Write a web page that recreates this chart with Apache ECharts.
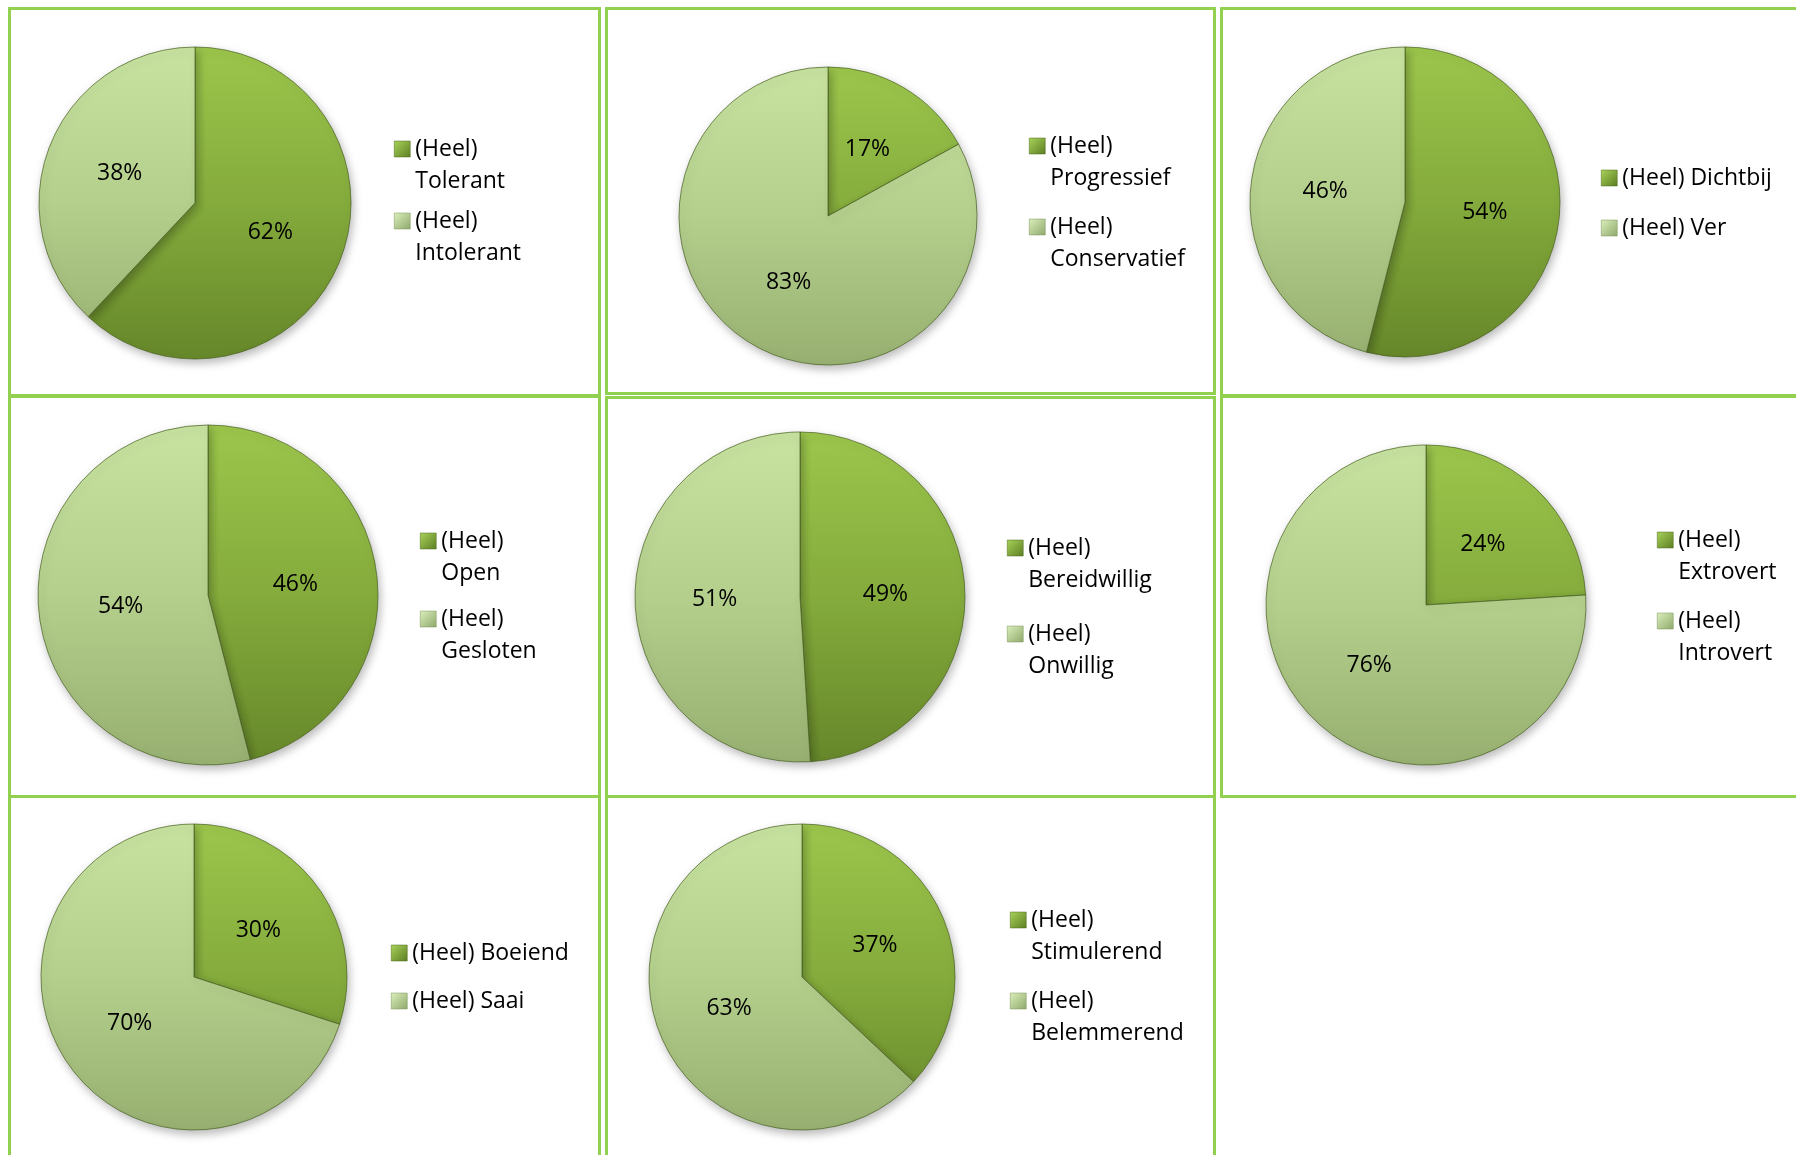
<!DOCTYPE html>
<html>
<head>
<meta charset="utf-8">
<script src="https://cdn.jsdelivr.net/npm/echarts@6/dist/echarts.min.js"></script>
<style>
  html, body { margin: 0; padding: 0; background: #fff; overflow: hidden; }
  #page { position: relative; width: 1796px; height: 1155px; overflow: hidden; }
  .panel { position: absolute; box-sizing: border-box; border: 3px solid #92d050; }
  #chart { position: absolute; left: 0; top: 0; width: 1796px; height: 1155px; }
</style>
</head>
<body>
<div id="page">
  <div id="chart"></div>
</div>
<script>
// data: share answering the "positive" side vs the "negative" side, per pie
const posNames = ['(Heel) Tolerant', '(Heel) Progressief', '(Heel) Dichtbij', '(Heel) Open',
  '(Heel) Bereidwillig', '(Heel) Extrovert', '(Heel) Boeiend', '(Heel) Stimulerend']
const negNames = ['(Heel) Intolerant', '(Heel) Conservatief', '(Heel) Ver', '(Heel) Gesloten',
  '(Heel) Onwillig', '(Heel) Introvert', '(Heel) Saai', '(Heel) Belemmerend']
const posValues = [62, 17, 54, 46, 49, 24, 30, 37]
const negValues = [38, 83, 46, 54, 51, 76, 70, 63]

// panel frames (page pixels)
const panels = [
  [8, 7, 593, 390], [605, 7, 611, 388], [1220, 7, 700, 390],
  [8, 395, 593, 403], [605, 396, 611, 402], [1220, 395, 700, 403],
  [8, 795, 593, 500], [605, 795, 611, 500]
]
// pie centre / radius and legend placement per panel
const layout = [
  { cx: 195, cy: 203, r: 156, lx: 394, ly: 149, step: 72, wrap: true },
  { cx: 828, cy: 216, r: 149, lx: 1029, ly: 146, step: 81, wrap: true },
  { cx: 1405, cy: 202, r: 155, lx: 1601, ly: 178, step: 50, wrap: false },
  { cx: 208, cy: 595, r: 170, lx: 420, ly: 541, step: 78, wrap: true },
  { cx: 800, cy: 597, r: 165, lx: 1007, ly: 548, step: 86, wrap: true },
  { cx: 1426, cy: 605, r: 160, lx: 1657, ly: 540, step: 81, wrap: true },
  { cx: 194, cy: 977, r: 153, lx: 391, ly: 953, step: 48, wrap: false },
  { cx: 802, cy: 977, r: 153, lx: 1010, ly: 920, step: 81, wrap: true }
]

const page = document.getElementById('page')
panels.forEach(p => {
  const el = document.createElement('div')
  el.className = 'panel'
  el.style.left = p[0] + 'px'
  el.style.top = p[1] + 'px'
  el.style.width = p[2] + 'px'
  el.style.height = p[3] + 'px'
  page.insertBefore(el, page.firstChild)
})

const FONT = '"Open Sans", "Noto Sans", sans-serif'
const LINE = 32

const sliceFill = (l, dark) => new echarts.graphic.LinearGradient(l.cx, l.cy - l.r, l.cx, l.cy + l.r, dark
  ? [{ offset: 0, color: '#9cc64c' }, { offset: 0.5, color: '#84ab3c' }, { offset: 1, color: '#66872a' }]
  : [{ offset: 0, color: '#c8e2a0' }, { offset: 0.5, color: '#b4cf8c' }, { offset: 1, color: '#97b071' }], true)

const iconFill = dark => new echarts.graphic.LinearGradient(0, 0, 1, 1, dark
  ? [{ offset: 0, color: '#a9d35a' }, { offset: 1, color: '#5b7d22' }]
  : [{ offset: 0, color: '#dcefbd' }, { offset: 1, color: '#8ea86a' }])

const series = []
const legends = []
layout.forEach((l, i) => {
  series.push({
    type: 'pie',
    center: [l.cx, l.cy],
    radius: l.r,
    startAngle: 90,
    clockwise: true,
    animation: false,
    silent: true,
    label: {
      position: 'inside',
      formatter: '{c}%',
      color: '#000',
      fontFamily: FONT,
      fontSize: 23
    },
    labelLine: { show: false },
    itemStyle: {
      borderColor: 'rgba(70,95,30,0.7)',
      borderWidth: 1,
      shadowBlur: 10,
      shadowOffsetX: 2,
      shadowOffsetY: 4,
      shadowColor: 'rgba(0,0,0,0.28)'
    },
    data: [
      { name: posNames[i], value: posValues[i], itemStyle: { color: sliceFill(l, true) } },
      { name: negNames[i], value: negValues[i], itemStyle: { color: sliceFill(l, false) } }
    ]
  })
  // echarts centres the text block on the icon; a blank first line puts "(Heel)" level with it
  const boxH = l.wrap ? LINE * 3 : LINE
  legends.push({
    orient: 'vertical',
    left: l.lx,
    top: l.ly - boxH / 2,
    padding: 0,
    itemGap: l.step - boxH,
    itemWidth: 16,
    itemHeight: 16,
    icon: 'rect',
    selectedMode: false,
    formatter: name => l.wrap ? '\n' + name.replace(' ', '\n') : name,
    textStyle: {
      fontFamily: FONT,
      fontSize: 23,
      lineHeight: LINE,
      color: '#000'
    },
    data: [
      { name: posNames[i], itemStyle: { color: iconFill(true), borderColor: '#4f6b1d', borderWidth: 0.5 } },
      { name: negNames[i], itemStyle: { color: iconFill(false), borderColor: '#7b9358', borderWidth: 0.5 } }
    ]
  })
})

const chart = echarts.init(document.getElementById('chart'))
chart.setOption({
  backgroundColor: 'transparent',
  legend: legends,
  series: series
})
</script>
</body>
</html>
